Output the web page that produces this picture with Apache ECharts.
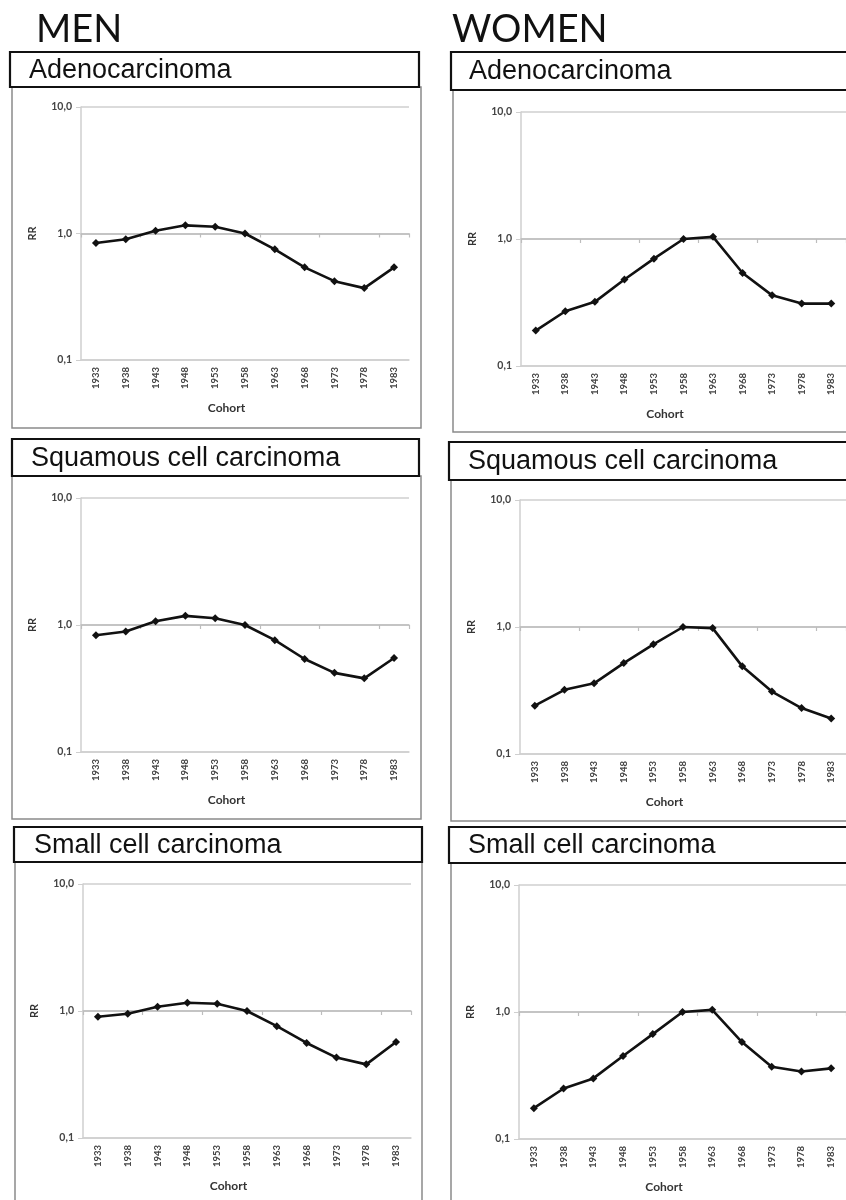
<!DOCTYPE html>
<html>
<head>
<meta charset="utf-8">
<style>
  html, body { margin: 0; padding: 0; background: #fff; }
  #chart { width: 846px; height: 1200px; }
</style>
<script src="https://cdn.jsdelivr.net/npm/echarts@6/dist/echarts.min.js"></script>
</head>
<body>
<div id="chart"></div>
<script>
// ---------- DATA ----------
const categories = ['1933','1938','1943','1948','1953','1958','1963','1968','1973','1978','1983'];
const yTickValues = [0.1, 1, 10];
const yTickLabels = ['0,1', '1,0', '10,0'];
const columnTitles = ['MEN', 'WOMEN'];
const panelTitles = ['Adenocarcinoma', 'Squamous cell carcinoma', 'Small cell carcinoma'];
const xAxisName = 'Cohort';
const yAxisName = 'RR';

const menAdeno      = [0.84, 0.90, 1.05, 1.16, 1.13, 1.00, 0.75, 0.54, 0.42, 0.37, 0.54];
const womenAdeno    = [0.19, 0.27, 0.32, 0.48, 0.70, 1.00, 1.04, 0.54, 0.36, 0.31, 0.31];
const menSquamous   = [0.83, 0.89, 1.07, 1.18, 1.13, 1.00, 0.76, 0.54, 0.42, 0.38, 0.55];
const womenSquamous = [0.24, 0.32, 0.36, 0.52, 0.73, 1.00, 0.98, 0.49, 0.31, 0.23, 0.19];
const menSmall      = [0.90, 0.95, 1.08, 1.16, 1.14, 1.00, 0.76, 0.56, 0.43, 0.38, 0.57];
const womenSmall    = [0.175, 0.25, 0.30, 0.45, 0.67, 1.00, 1.04, 0.58, 0.37, 0.34, 0.36];

// ---------- LAYOUT ----------
const panels = [
  { data: menAdeno,      title: 0, grid: {left: 81,  top: 107, width: 328, height: 253},
    box: {x: 10, y: 52, w: 409, h: 35}, textX: 29,  frame: {x: 12, y: 87, w: 409, h: 341} },
  { data: womenAdeno,    title: 0, grid: {left: 521, top: 112, width: 328, height: 254},
    box: {x: 451, y: 52, w: 420, h: 38}, textX: 469, frame: {x: 453, y: 90, w: 420, h: 342} },
  { data: menSquamous,   title: 1, grid: {left: 81,  top: 498, width: 328, height: 254},
    box: {x: 12, y: 439, w: 407, h: 37}, textX: 31,  frame: {x: 12, y: 476, w: 409, h: 343} },
  { data: womenSquamous, title: 1, grid: {left: 520, top: 500, width: 328, height: 254},
    box: {x: 449, y: 442, w: 420, h: 38}, textX: 468, frame: {x: 451, y: 480, w: 420, h: 341} },
  { data: menSmall,      title: 2, grid: {left: 83,  top: 884, width: 328, height: 254},
    box: {x: 14, y: 827, w: 408, h: 35}, textX: 34,  frame: {x: 15, y: 862, w: 407, h: 360} },
  { data: womenSmall,    title: 2, grid: {left: 519, top: 885, width: 328, height: 254},
    box: {x: 449, y: 827, w: 420, h: 36}, textX: 468, frame: {x: 451, y: 863, w: 420, h: 360} }
];

const axisFont = 'Lato, "DejaVu Sans", sans-serif';
const gridColor = '#cfcfcf';

const grids = [], xAxes = [], yAxes = [], series = [], graphics = [];

panels.forEach((p, i) => {
  grids.push(Object.assign({containLabel: false}, p.grid));
  // bottom category axis with labels
  xAxes.push({
    type: 'category', gridIndex: i, data: categories, boundaryGap: true, position: 'bottom',
    axisLine: {show: true, lineStyle: {color: gridColor, width: 1.5}},
    axisTick: {show: false},
    axisLabel: {rotate: 90, fontSize: 9.5, color: '#444', fontFamily: axisFont, fontWeight: 'bold', margin: 7},
    name: xAxisName, nameLocation: 'middle', nameGap: 42,
    nameTextStyle: {fontSize: 12, fontWeight: 'bold', color: '#333', fontFamily: axisFont, padding: [0, 37, 0, 0]}
  });
  // category axis crossing at RR = 1,0 (tick marks only)
  xAxes.push({
    type: 'category', gridIndex: i, data: categories, boundaryGap: true, position: 'bottom',
    offset: -p.grid.height / 2,
    axisLine: {show: true, lineStyle: {color: '#bdbdbd', width: 1.5}},
    axisTick: {show: true, length: 4, lineStyle: {color: '#bdbdbd', width: 1.2}},
    axisLabel: {show: false}
  });
  yAxes.push({
    type: 'log', logBase: 10, gridIndex: i, min: 0.1, max: 10,
    axisLine: {show: true, lineStyle: {color: gridColor, width: 1.5}},
    axisTick: {show: true, length: 5, lineStyle: {color: gridColor}},
    splitLine: {show: true, lineStyle: {color: gridColor, width: 1.5}},
    axisLabel: {
      fontSize: 10.5, color: '#444', fontFamily: axisFont, fontWeight: 'bold', margin: 9,
      formatter: v => {
        const k = yTickValues.findIndex(t => Math.abs(t - v) < 1e-9);
        return k >= 0 ? yTickLabels[k] : '';
      }
    },
    name: yAxisName, nameLocation: 'middle', nameGap: 43, nameRotate: 90,
    nameTextStyle: {fontSize: 11, fontWeight: 'bold', color: '#333', fontFamily: axisFont}
  });
  series.push({
    type: 'line', xAxisIndex: 2 * i, yAxisIndex: i, data: p.data,
    symbol: 'diamond', symbolSize: 8, showSymbol: true,
    lineStyle: {color: '#111', width: 2.6},
    itemStyle: {color: '#111'},
    z: 5, animation: false
  });
  // panel frame
  graphics.push({
    type: 'rect', shape: {x: p.frame.x, y: p.frame.y, width: p.frame.w, height: p.frame.h},
    style: {fill: 'none', stroke: '#8a8a8a', lineWidth: 1.5}, z: 1
  });
  // title box
  graphics.push({
    type: 'rect', shape: {x: p.box.x, y: p.box.y, width: p.box.w, height: p.box.h},
    style: {fill: '#fff', stroke: '#111', lineWidth: 2.2}, z: 3
  });
  graphics.push({
    type: 'text', x: p.textX, y: p.box.y + p.box.h / 2 + 1, z: 4,
    style: {text: panelTitles[p.title], font: '27px "Liberation Sans", Arial, sans-serif',
            fill: '#111', verticalAlign: 'middle', align: 'left'}
  });
});

// column headings
graphics.push({
  type: 'text', x: 36, y: 30, z: 4,
  style: {text: columnTitles[0], font: '38px Lato, "Open Sans", sans-serif', fill: '#111', verticalAlign: 'middle'}
});
graphics.push({
  type: 'text', x: 452, y: 30, z: 4,
  style: {text: columnTitles[1], font: '38px Lato, "Open Sans", sans-serif', fill: '#111', verticalAlign: 'middle'}
});

const chart = echarts.init(document.getElementById('chart'), null, {renderer: 'canvas'});
chart.setOption({
  backgroundColor: '#fff',
  animation: false,
  grid: grids,
  xAxis: xAxes,
  yAxis: yAxes,
  series: series,
  graphic: graphics
});
</script>
</body>
</html>
